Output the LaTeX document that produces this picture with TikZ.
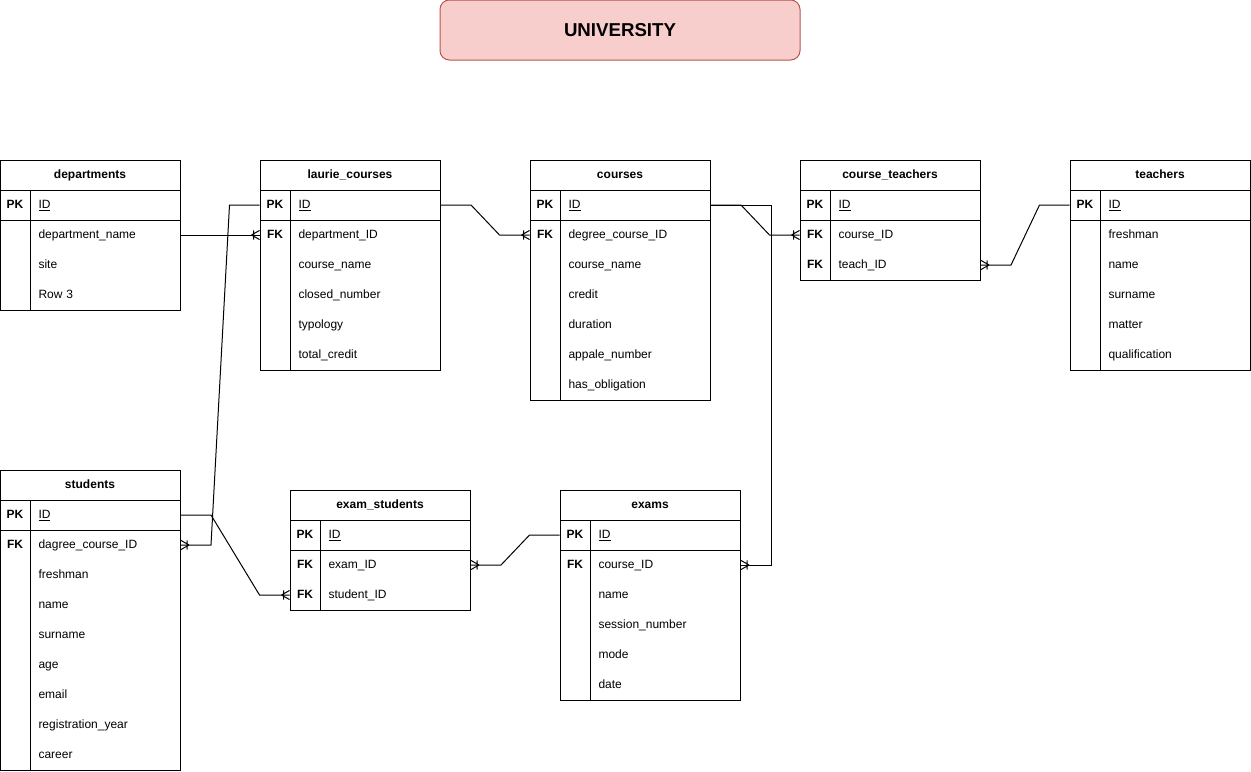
\documentclass[tikz,border=0pt]{standalone}
\usepackage{fontspec}
\setmainfont{Liberation Sans}
\usetikzlibrary{calc, positioning, decorations.markings}
\definecolor{uni-fill}{RGB}{248,206,204}
\definecolor{uni-line}{RGB}{184,84,80}

\begin{document}
\begin{tikzpicture}[
  x=0.75pt, y=-0.75pt, line width=0.75pt,
  title/.style={draw=uni-line, fill=uni-fill, rounded corners=7pt, minimum width=270pt, minimum height=45pt, font=\fontsize{14}{16}\selectfont\bfseries},
  thead/.style={text height=6.5pt, text depth=2pt, font=\fontsize{9}{11}\selectfont\bfseries},
  key/.style={minimum width=22.5pt, minimum height=22.5pt, inner sep=0pt, text height=6.5pt, text depth=2pt, font=\fontsize{9}{11}\selectfont\bfseries},
  field/.style={anchor=west, text width=100.5pt, inner xsep=6pt, inner ysep=0pt, minimum height=22.5pt, text height=6.5pt, text depth=2pt, align=left, font=\fontsize{9}{11}\selectfont},
  frame/.style={draw, line width=0.75pt},
  rel/.style={draw, line width=0.75pt},
  many/.style={postaction={decorate, decoration={markings, mark=at position 1 with {
    \draw[line width=0.75pt] (-6pt,0) -- (0,3.4pt) (-6pt,0) -- (0,-3.4pt) (-4.5pt,-3.4pt) -- (-4.5pt,3.4pt);}}}},
]
  \useasboundingbox (0,0) rectangle (1251,771);

  % Title
  \node[title] (uni) at (620,30) {UNIVERSITY};

  % departments
  \draw[frame] (0,160) rectangle (180,310) (0,190) -- (180,190) (0,220) -- (180,220) (30,190) -- (30,310);
  \node[thead] (dep) at (90,175) {departments};
  \node[key] (dep-id-k) at (15,205) {PK};
  \node[field] (dep-id) at (30,205) {\underline{ID}};
  \node[field] (dep-name) at (30,235) {department\_name};
  \foreach \f [count=\i from 2] in {site, Row 3}
    \node[field] (dep-\i) at (30,205+30*\i) {\f};

  % laurie_courses
  \draw[frame] (260,160) rectangle (440,370) (260,190) -- (440,190) (260,220) -- (440,220) (290,190) -- (290,370);
  \node[thead] (lc) at (350,175) {laurie\_courses};
  \node[key] (lc-id-k) at (275,205) {PK};
  \node[field] (lc-id) at (290,205) {\underline{ID}};
  \node[key] (lc-dept-k) at (275,235) {FK};
  \node[field] (lc-dept) at (290,235) {department\_ID};
  \foreach \f [count=\i from 2] in {course\_name, closed\_number, typology, total\_credit}
    \node[field] (lc-\i) at (290,205+30*\i) {\f};

  % courses
  \draw[frame] (530,160) rectangle (710,400) (530,190) -- (710,190) (530,220) -- (710,220) (560,190) -- (560,400);
  \node[thead] (co) at (620,175) {courses};
  \node[key] (co-id-k) at (545,205) {PK};
  \node[field] (co-id) at (560,205) {\underline{ID}};
  \node[key] (co-dc-k) at (545,235) {FK};
  \node[field] (co-dc) at (560,235) {degree\_course\_ID};
  \foreach \f [count=\i from 2] in {course\_name, credit, duration, appale\_number, has\_obligation}
    \node[field] (co-\i) at (560,205+30*\i) {\f};

  % course_teachers
  \draw[frame] (800,160) rectangle (980,280) (800,190) -- (980,190) (800,220) -- (980,220) (830,190) -- (830,280);
  \node[thead] (ct) at (890,175) {course\_teachers};
  \node[key] (ct-id-k) at (815,205) {PK};
  \node[field] (ct-id) at (830,205) {\underline{ID}};
  \node[key] (ct-cid-k) at (815,235) {FK};
  \node[field] (ct-cid) at (830,235) {course\_ID};
  \node[key] (ct-tid-k) at (815,265) {FK};
  \node[field] (ct-tid) at (830,265) {teach\_ID};

  % teachers
  \draw[frame] (1070,160) rectangle (1250,370) (1070,190) -- (1250,190) (1070,220) -- (1250,220) (1100,190) -- (1100,370);
  \node[thead] (te) at (1160,175) {teachers};
  \node[key] (te-id-k) at (1085,205) {PK};
  \node[field] (te-id) at (1100,205) {\underline{ID}};
  \foreach \f [count=\i] in {freshman, name, surname, matter, qualification}
    \node[field] (te-\i) at (1100,205+30*\i) {\f};

  % students
  \draw[frame] (0,470) rectangle (180,770) (0,500) -- (180,500) (0,530) -- (180,530) (30,500) -- (30,770);
  \node[thead] (st) at (90,485) {students};
  \node[key] (st-id-k) at (15,515) {PK};
  \node[field] (st-id) at (30,515) {\underline{ID}};
  \node[key] (st-dc-k) at (15,545) {FK};
  \node[field] (st-dc) at (30,545) {dagree\_course\_ID};
  \foreach \f [count=\i from 2] in {freshman, name, surname, age, email, registration\_year, career}
    \node[field] (st-\i) at (30,515+30*\i) {\f};

  % exam_students
  \draw[frame] (290,490) rectangle (470,610) (290,520) -- (470,520) (290,550) -- (470,550) (320,520) -- (320,610);
  \node[thead] (es) at (380,505) {exam\_students};
  \node[key] (es-id-k) at (305,535) {PK};
  \node[field] (es-id) at (320,535) {\underline{ID}};
  \node[key] (es-eid-k) at (305,565) {FK};
  \node[field] (es-eid) at (320,565) {exam\_ID};
  \node[key] (es-sid-k) at (305,595) {FK};
  \node[field] (es-sid) at (320,595) {student\_ID};

  % exams
  \draw[frame] (560,490) rectangle (740,700) (560,520) -- (740,520) (560,550) -- (740,550) (590,520) -- (590,700);
  \node[thead] (ex) at (650,505) {exams};
  \node[key] (ex-id-k) at (575,535) {PK};
  \node[field] (ex-id) at (590,535) {\underline{ID}};
  \node[key] (ex-cid-k) at (575,565) {FK};
  \node[field] (ex-cid) at (590,565) {course\_ID};
  \foreach \f [count=\i from 2] in {name, session\_number, mode, date}
    \node[field] (ex-\i) at (590,535+30*\i) {\f};

  % Relations
  \draw[rel, many] (dep-name.east) -- (lc-dept-k.west);
  \draw[rel, many] (lc-id.east) -- ++(30,0) -- ($(co-dc-k.west)+(-30,0)$) -- (co-dc-k.west);
  \draw[rel, many] (co-id.east) -- ++(30,0) -- ($(ct-cid-k.west)+(-30,0)$) -- (ct-cid-k.west);
  \draw[rel, many] (co-id.east) -- ++(60,0) |- (ex-cid.east);
  \draw[rel, many] (te-id-k.west) -- ++(-30,0) -- ($(ct-tid.east)+(30,0)$) -- (ct-tid.east);
  \draw[rel, many] (lc-id-k.west) -- ++(-30,0) -- ($(st-dc.east)+(30,0)$) -- (st-dc.east);
  \draw[rel, many] (st-id.east) -- ++(30,0) -- ($(es-sid-k.west)+(-30,0)$) -- (es-sid-k.west);
  \draw[rel, many] (ex-id-k.west) -- ++(-30,0) -- ($(es-eid.east)+(30,0)$) -- (es-eid.east);
\end{tikzpicture}
\end{document}
